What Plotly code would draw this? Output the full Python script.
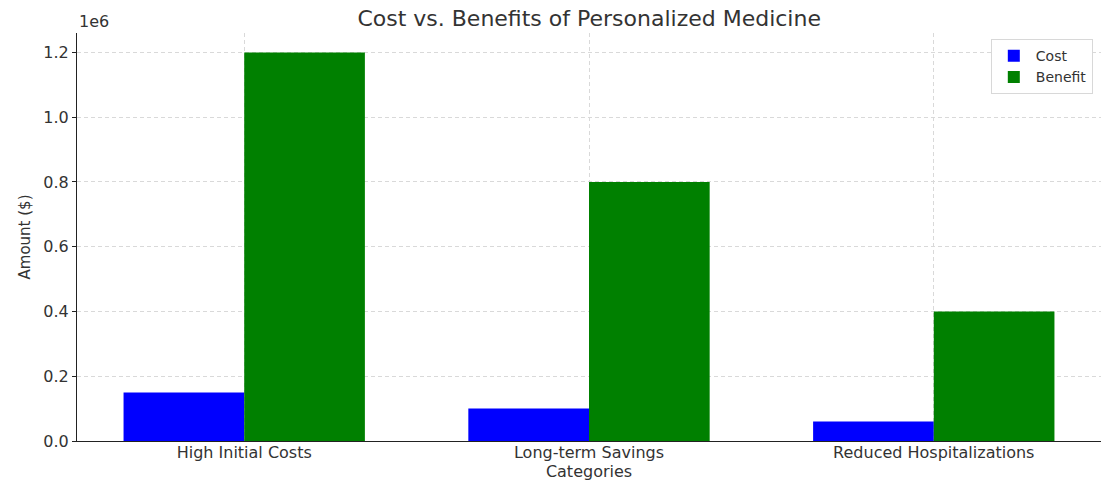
import plotly.graph_objects as go

categories = ["High Initial Costs", "Long-term Savings", "Reduced Hospitalizations"]
cost = [150000, 100000, 60000]
benefit = [1200000, 800000, 400000]
ytick_vals = [0, 200000, 400000, 600000, 800000, 1000000, 1200000]
ytick_text = ["0.0", "0.2", "0.4", "0.6", "0.8", "1.0", "1.2"]

FONT = "DejaVu Sans"
TXT = "#333333"

fig = go.Figure()
fig.add_trace(go.Bar(x=categories, y=cost, name="Cost", marker=dict(color="#0000ff", line=dict(width=0))))
fig.add_trace(go.Bar(x=categories, y=benefit, name="Benefit", marker=dict(color="#008000", line=dict(width=0))))

fig.update_layout(
    width=1118, height=489,
    margin=dict(l=77, r=17, t=33, b=48),
    barmode="group", bargap=0.3, bargroupgap=0,
    plot_bgcolor="white", paper_bgcolor="white",
    font=dict(family=FONT, color=TXT, size=15),
    title=dict(text="Cost vs. Benefits of Personalized Medicine", x=0.527, xanchor="center",
               y=0.962, yanchor="middle", font=dict(size=22, color=TXT)),
    legend=dict(x=0.992, y=0.985, xanchor="right", yanchor="top", bgcolor="white",
                bordercolor="#d8d8d8", borderwidth=1, font=dict(size=14, color=TXT),
                tracegroupgap=0, itemwidth=34),
    xaxis=dict(range=[-0.485, 2.485], showline=True, linecolor="#222222", linewidth=1.2,
               showgrid=True, gridcolor="#d9d9d9", griddash="4px,3px", gridwidth=0.8,
               ticks="", tickfont=dict(size=16, color=TXT), ticklabelstandoff=-3,
               title=dict(text="Categories", font=dict(size=16, color=TXT), standoff=0)),
    yaxis=dict(range=[0, 1260000], showline=True, linecolor="#222222", linewidth=1.2,
               showgrid=True, gridcolor="#d9d9d9", griddash="4px,3px", gridwidth=0.8,
               tickvals=ytick_vals, ticktext=ytick_text, ticks="outside", ticklen=4,
               tickcolor="#222222", tickfont=dict(size=16, color=TXT), zeroline=False,
               title=dict(text="Amount ($)", font=dict(size=15, color=TXT), standoff=8)),
)
fig.add_annotation(text="1e6", xref="paper", yref="paper", x=0, y=1.0, xanchor="left",
                   yanchor="bottom", showarrow=False, font=dict(size=16, color=TXT), yshift=0)

fig.write_html("out.html")
